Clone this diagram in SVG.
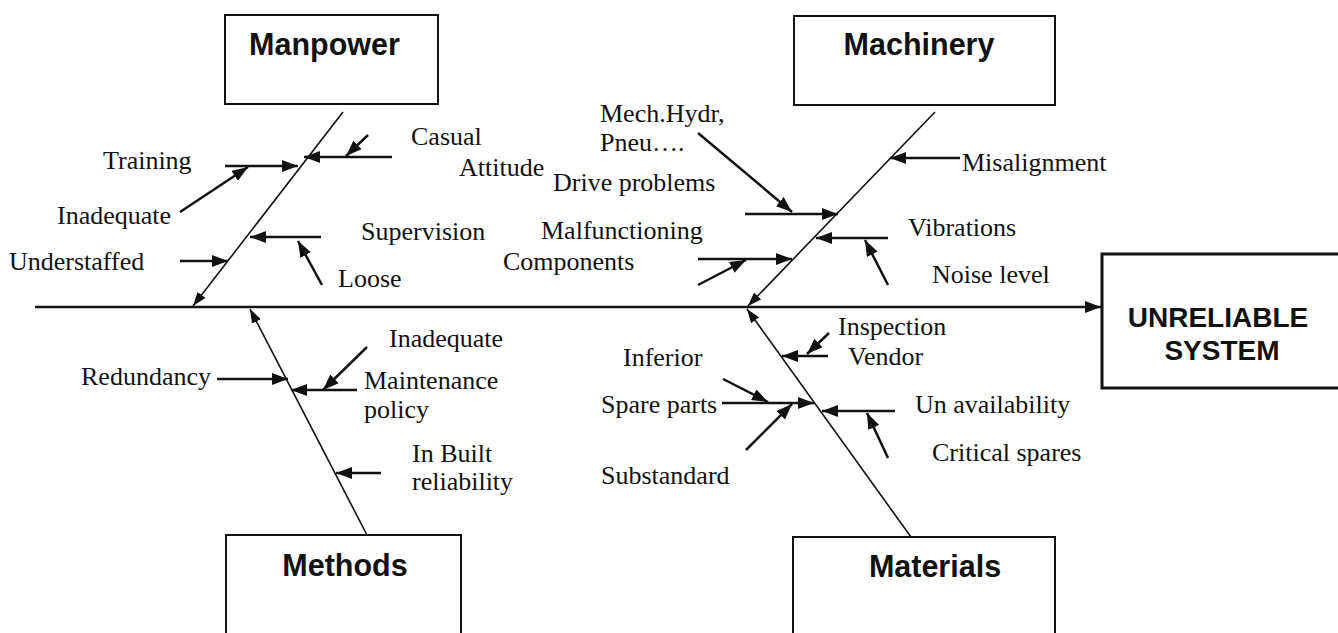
<svg xmlns="http://www.w3.org/2000/svg" width="1338" height="633" viewBox="0 0 1338 633">
<style>
.box{fill:#fff;stroke:#111;stroke-width:2}
.rbox{fill:#fff;stroke:#111;stroke-width:3}
.hd{font-family:"Liberation Sans",Arial,sans-serif;font-weight:bold;font-size:30.5px;fill:#111;text-anchor:middle}
.rt{font-family:"Liberation Sans",Arial,sans-serif;font-weight:bold;font-size:28px;fill:#111;text-anchor:middle}
.lb{font-family:"Liberation Serif","Times New Roman",serif;font-size:26px;fill:#111}
.c{stroke:#111;stroke-width:2.5;fill:none;marker-end:url(#ah)}
.b{stroke:#111;stroke-width:1.6;fill:none;marker-end:url(#bh)}
.sp{stroke:#111;stroke-width:2.5;fill:none;marker-end:url(#ah)}
</style>
<defs>
<marker id="ah" markerUnits="userSpaceOnUse" markerWidth="17" markerHeight="12" refX="16" refY="6" orient="auto" viewBox="0 0 17 12">
<path d="M0,0 L16,6 L0,12 Z" fill="#111"/>
</marker>
<marker id="bh" markerUnits="userSpaceOnUse" markerWidth="15" markerHeight="10" refX="14" refY="5" orient="auto" viewBox="0 0 15 10">
<path d="M0,0 L14,5 L0,10 Z" fill="#111"/>
</marker>
</defs>
<rect width="1338" height="633" fill="#fff"/>

<g id="connectors">
<line class="sp" x1="35" y1="307" x2="1101" y2="307"/>
<line class="b" x1="343" y1="112" x2="193" y2="306"/>
<line class="b" x1="935" y1="112" x2="748" y2="306"/>
<line class="b" x1="367" y1="535" x2="250" y2="309"/>
<line class="b" x1="911" y1="537" x2="747" y2="309"/>
<!-- Manpower -->
<line class="c" x1="392" y1="157" x2="304" y2="157"/>
<line class="c" x1="368" y1="135" x2="346" y2="156"/>
<line class="c" x1="225" y1="166" x2="298" y2="166"/>
<line class="c" x1="180" y1="212" x2="248" y2="167"/>
<line class="c" x1="321" y1="237" x2="250" y2="237"/>
<line class="c" x1="322" y1="285" x2="298" y2="241"/>
<line class="c" x1="180" y1="261" x2="228" y2="261"/>
<!-- Machinery -->
<line class="c" x1="960" y1="158" x2="890" y2="158"/>
<line class="c" x1="698" y1="133" x2="792" y2="212"/>
<line class="c" x1="745" y1="214" x2="838" y2="214"/>
<line class="c" x1="888" y1="238" x2="816" y2="238"/>
<line class="c" x1="888" y1="285" x2="865" y2="240"/>
<line class="c" x1="698" y1="259" x2="792" y2="259"/>
<line class="c" x1="698" y1="285" x2="746" y2="260"/>
<!-- Methods -->
<line class="c" x1="217" y1="379" x2="288" y2="379"/>
<line class="c" x1="357" y1="390" x2="291" y2="390"/>
<line class="c" x1="367" y1="347" x2="323" y2="390"/>
<line class="c" x1="381" y1="473" x2="336" y2="473"/>
<!-- Materials -->
<line class="c" x1="828" y1="356" x2="782" y2="356"/>
<line class="c" x1="829" y1="333" x2="807" y2="354"/>
<line class="c" x1="722" y1="403" x2="814" y2="403"/>
<line class="c" x1="723" y1="379" x2="768" y2="402"/>
<line class="c" x1="746" y1="450" x2="792" y2="404"/>
<line class="c" x1="895" y1="411" x2="822" y2="411"/>
<line class="c" x1="888" y1="458" x2="867" y2="413"/>
</g>

<g id="manpower">
<rect class="box" x="225" y="15" width="213" height="89"/>
<text class="hd" x="324.5" y="55">Manpower</text>
</g>
<g id="machinery">
<rect class="box" x="794" y="16" width="261" height="89"/>
<text class="hd" x="919" y="55">Machinery</text>
</g>
<g id="methods">
<rect class="box" x="226" y="535" width="235" height="120"/>
<text class="hd" x="345" y="576">Methods</text>
</g>
<g id="materials">
<rect class="box" x="793" y="537" width="262" height="120"/>
<text class="hd" x="935" y="577">Materials</text>
</g>
<g id="result">
<rect class="rbox" x="1102" y="254" width="260" height="134"/>
<text class="rt" x="1218" y="327">UNRELIABLE</text>
<text class="rt" x="1222" y="360">SYSTEM</text>
</g>

<g id="manpower-causes">
<text class="lb" x="411" y="145">Casual</text>
<text class="lb" x="459" y="176">Attitude</text>
<text class="lb" x="103" y="169">Training</text>
<text class="lb" x="57" y="224">Inadequate</text>
<text class="lb" x="361" y="240">Supervision</text>
<text class="lb" x="338" y="287">Loose</text>
<text class="lb" x="9" y="270">Understaffed</text>
</g>
<g id="machinery-causes">
<text class="lb" x="600" y="122">Mech.Hydr,</text>
<text class="lb" x="600" y="151">Pneu….</text>
<text class="lb" x="553" y="191">Drive problems</text>
<text class="lb" x="541" y="239">Malfunctioning</text>
<text class="lb" x="503" y="270">Components</text>
<text class="lb" x="962" y="171">Misalignment</text>
<text class="lb" x="908" y="236">Vibrations</text>
<text class="lb" x="932" y="283">Noise level</text>
</g>
<g id="methods-causes">
<text class="lb" x="389" y="347">Inadequate</text>
<text class="lb" x="81" y="385">Redundancy</text>
<text class="lb" x="364" y="389">Maintenance</text>
<text class="lb" x="364" y="418">policy</text>
<text class="lb" x="412" y="462">In Built</text>
<text class="lb" x="412" y="490">reliability</text>
</g>
<g id="materials-causes">
<text class="lb" x="838" y="335">Inspection</text>
<text class="lb" x="848" y="365">Vendor</text>
<text class="lb" x="623" y="366">Inferior</text>
<text class="lb" x="601" y="413">Spare parts</text>
<text class="lb" x="601" y="484">Substandard</text>
<text class="lb" x="915" y="413">Un availability</text>
<text class="lb" x="932" y="461">Critical spares</text>
</g>
</svg>
